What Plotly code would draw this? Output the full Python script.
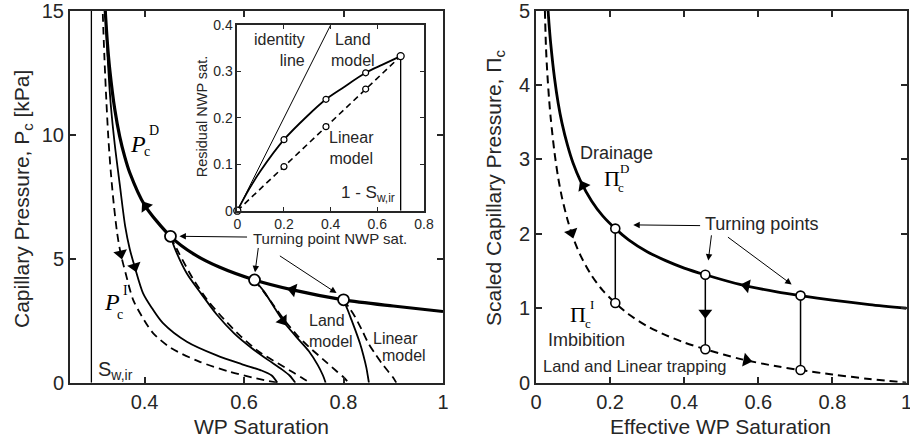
import numpy as np
import plotly.graph_objects as go

# ---------------- Left panel: WP saturation vs capillary pressure [kPa] ----------------
S_wir = 0.293
S_drain = [0.32, 0.325, 0.33, 0.34, 0.35, 0.36, 0.37, 0.40, 0.452, 0.50, 0.55, 0.621, 0.70, 0.80, 0.90, 1.0]
P_drain = [15.26, 13.74, 12.61, 11.02, 9.92, 9.11, 8.47, 7.16, 5.9, 5.17, 4.66, 4.14, 3.73, 3.34, 3.09, 2.87]
S_tp = [0.452, 0.621, 0.80]
P_tp = [5.9, 4.14, 3.34]

# primary imbibition from S_w,ir (dashed = linear, solid = Land)
S_prim_lin = [0.315, 0.319, 0.323, 0.327, 0.332, 0.338, 0.345, 0.352, 0.362, 0.377, 0.395, 0.417, 0.453, 0.51, 0.57, 0.625, 0.667]
P_prim_lin = [15.4, 13.2, 11.4, 9.9, 8.5, 7.2, 6.0, 5.2, 4.4, 3.34, 2.66, 2.0, 1.4, 0.85, 0.45, 0.17, 0.0]
S_prim_land = [0.321, 0.326, 0.332, 0.340, 0.350, 0.361, 0.370, 0.380, 0.397, 0.415, 0.437, 0.485, 0.545, 0.595, 0.634, 0.655, 0.667]
P_prim_land = [15.2, 13.0, 11.2, 9.6, 8.0, 6.3, 5.4, 4.68, 3.6, 3.0, 2.4, 1.65, 1.1, 0.75, 0.5, 0.3, 0.0]

# scanning curves from the three turning points
S_tp1_land = [0.452, 0.462, 0.485, 0.513, 0.545, 0.58, 0.615, 0.648, 0.675, 0.692, 0.703]
P_tp1_land = [5.9, 5.35, 4.4, 3.61, 2.75, 1.99, 1.4, 0.92, 0.55, 0.28, 0.0]
S_tp1_lin = [0.452, 0.469, 0.497, 0.526, 0.56, 0.594, 0.63, 0.668, 0.70, 0.72, 0.733]
P_tp1_lin = [5.9, 5.22, 4.2, 3.34, 2.55, 1.86, 1.25, 0.78, 0.4, 0.15, 0.0]
S_tp2_land = [0.621, 0.64, 0.658, 0.678, 0.705, 0.73, 0.748, 0.758, 0.764]
P_tp2_land = [4.14, 3.68, 3.12, 2.5, 1.85, 1.28, 0.72, 0.32, 0.0]
S_tp2_lin = [0.621, 0.64, 0.66, 0.68, 0.705, 0.73, 0.76, 0.785, 0.80, 0.81]
P_tp2_lin = [4.14, 3.65, 3.1, 2.55, 1.95, 1.45, 0.92, 0.48, 0.22, 0.0]
S_tp3_land = [0.80, 0.808, 0.816, 0.825, 0.833, 0.84, 0.846, 0.849, 0.851]
P_tp3_land = [3.34, 2.95, 2.53, 2.05, 1.59, 1.1, 0.6, 0.25, 0.0]
S_tp3_lin = [0.80, 0.812, 0.823, 0.837, 0.85, 0.864, 0.877, 0.89, 0.90, 0.906]
P_tp3_lin = [3.34, 3.0, 2.66, 2.12, 1.59, 1.15, 0.78, 0.45, 0.2, 0.0]

# ---------------- Inset: residual NWP saturation ----------------
nwp_turn = [0, 0.2, 0.38, 0.55, 0.7]
res_land = [0, 0.153, 0.24, 0.297, 0.333]
res_linear = [0, 0.095, 0.181, 0.262, 0.333]
land_curve_x = [0, 0.05, 0.1, 0.2, 0.3, 0.38, 0.45, 0.55, 0.62, 0.7]
land_curve_y = [0, 0.046, 0.086, 0.153, 0.204, 0.24, 0.264, 0.297, 0.314, 0.333]
identity_x = [0, 0.4]
one_minus_swir = 0.7

# ---------------- Right panel: scaled capillary pressure ----------------
Se_D = [0.032, 0.035, 0.04, 0.05, 0.06, 0.07, 0.085, 0.1, 0.12, 0.15, 0.18, 0.214, 0.25, 0.3, 0.35, 0.4, 0.457, 0.55, 0.65, 0.714, 0.8, 0.9, 1.0]
Pi_D = [5.04, 4.83, 4.54, 4.09, 3.75, 3.49, 3.19, 2.95, 2.71, 2.44, 2.24, 2.07, 1.92, 1.76, 1.64, 1.54, 1.45, 1.32, 1.22, 1.17, 1.11, 1.05, 1.0]
Se_I = [0.024, 0.027, 0.03, 0.035, 0.04, 0.05, 0.06, 0.07, 0.085, 0.1, 0.12, 0.15, 0.18, 0.214, 0.25, 0.3, 0.35, 0.4, 0.457, 0.55, 0.65, 0.714, 0.8, 0.9, 1.0]
Pi_I = [5.0, 4.5, 4.2, 3.83, 3.54, 3.09, 2.75, 2.49, 2.19, 1.95, 1.71, 1.44, 1.24, 1.07, 0.92, 0.76, 0.64, 0.54, 0.45, 0.32, 0.22, 0.17, 0.11, 0.05, 0.0]
Se_tp = [0.214, 0.457, 0.714]
Pi_tp_D = [2.07, 1.45, 1.17]
Pi_tp_I = [1.07, 0.45, 0.17]

INK = "#262626"
SANS = "Liberation Sans"
SERIF = "Liberation Serif"
DASH = "8px,5px"

# pixel scales (px per data unit) for arrow orientation
KX1, KY1 = 373 / 0.75, 371.7 / 15
KX2, KY2 = 370.7 / 1.0, 371.7 / 5

fig = go.Figure()


def line(x, y, xa, ya, width=1.8, dash=None, shape="spline"):
    fig.add_trace(go.Scatter(x=x, y=y, xaxis=xa, yaxis=ya, mode="lines",
                             line=dict(color="black", width=width, dash=dash, shape=shape, smoothing=0.8),
                             hoverinfo="skip", showlegend=False))


def arrow(xs, ys, x0, sign, xa, ya, kx, ky, size=12):
    xs = np.asarray(xs, float)
    ys = np.asarray(ys, float)
    h = 0.004
    y0 = float(np.interp(x0, xs, ys))
    y1, y2 = np.interp([x0 - h, x0 + h], xs, ys)
    dx = 2 * h * kx * sign
    dyup = (y2 - y1) * ky * sign
    ang = float(np.degrees(np.arctan2(dx, dyup)))
    fig.add_trace(go.Scatter(x=[x0], y=[y0], xaxis=xa, yaxis=ya, mode="markers",
                             marker=dict(symbol="triangle-up", size=size, color="black", angle=ang,
                                         line=dict(width=0)),
                             hoverinfo="skip", showlegend=False, cliponaxis=False))


# ---- left panel lines ----
line([S_wir, S_wir], [0, 15], "x", "y", width=1.3, shape="linear")
line(S_prim_lin, P_prim_lin, "x", "y", dash=DASH)
line(S_prim_land, P_prim_land, "x", "y")
line(S_tp1_lin, P_tp1_lin, "x", "y", dash=DASH)
line(S_tp1_land, P_tp1_land, "x", "y")
line(S_tp2_lin, P_tp2_lin, "x", "y", dash=DASH)
line(S_tp2_land, P_tp2_land, "x", "y")
line(S_tp3_lin, P_tp3_lin, "x", "y", dash=DASH)
line(S_tp3_land, P_tp3_land, "x", "y")
line(S_drain, P_drain, "x", "y", width=3.2)

arrow(S_drain, P_drain, 0.402, -1, "x", "y", KX1, KY1)
arrow(S_drain, P_drain, 0.698, -1, "x", "y", KX1, KY1)
arrow(S_prim_lin, P_prim_lin, 0.352, 1, "x", "y", KX1, KY1)
arrow(S_prim_land, P_prim_land, 0.380, 1, "x", "y", KX1, KY1)
arrow(S_tp2_land, P_tp2_land, 0.678, 1, "x", "y", KX1, KY1)

fig.add_trace(go.Scatter(x=S_tp, y=P_tp, xaxis="x", yaxis="y", mode="markers",
                         marker=dict(symbol="circle", size=11, color="white", line=dict(color="black", width=1.8)),
                         hoverinfo="skip", showlegend=False, cliponaxis=False))

# ---- inset ----
line(identity_x, identity_x, "x3", "y3", width=1.0, shape="linear")
line([0, one_minus_swir], [0, res_linear[-1]], "x3", "y3", width=1.6, dash="6px,4px", shape="linear")
line(land_curve_x, land_curve_y, "x3", "y3", width=1.8)
line([one_minus_swir, one_minus_swir], [0, res_land[-1]], "x3", "y3", width=1.3, shape="linear")
fig.add_trace(go.Scatter(x=nwp_turn[1:4], y=res_land[1:4], xaxis="x3", yaxis="y3", mode="markers",
                         marker=dict(size=6, color="white", line=dict(color="black", width=1.2)),
                         hoverinfo="skip", showlegend=False))
fig.add_trace(go.Scatter(x=nwp_turn[1:4], y=res_linear[1:4], xaxis="x3", yaxis="y3", mode="markers",
                         marker=dict(size=6, color="white", line=dict(color="black", width=1.2)),
                         hoverinfo="skip", showlegend=False))
fig.add_trace(go.Scatter(x=[nwp_turn[0], nwp_turn[-1]], y=[res_land[0], res_land[-1]], xaxis="x3", yaxis="y3",
                         mode="markers", marker=dict(size=7, color="white", line=dict(color="black", width=1.3)),
                         hoverinfo="skip", showlegend=False, cliponaxis=False))

# ---- right panel ----
for i in range(3):
    line([Se_tp[i], Se_tp[i]], [Pi_tp_I[i], Pi_tp_D[i]], "x2", "y2", width=1.5, shape="linear")
line(Se_I, Pi_I, "x2", "y2", width=2.0, dash=DASH)
line(Se_D, Pi_D, "x2", "y2", width=2.8)
arrow(Se_D, Pi_D, 0.127, -1, "x2", "y2", KX2, KY2)
arrow(Se_D, Pi_D, 0.568, -1, "x2", "y2", KX2, KY2)
arrow(Se_I, Pi_I, 0.096, 1, "x2", "y2", KX2, KY2)
arrow(Se_I, Pi_I, 0.568, 1, "x2", "y2", KX2, KY2)
fig.add_trace(go.Scatter(x=[Se_tp[1]], y=[0.94], xaxis="x2", yaxis="y2", mode="markers",
                         marker=dict(symbol="triangle-up", size=12, color="black", angle=180, line=dict(width=0)),
                         hoverinfo="skip", showlegend=False))
fig.add_trace(go.Scatter(x=Se_tp + Se_tp, y=Pi_tp_D + Pi_tp_I, xaxis="x2", yaxis="y2", mode="markers",
                         marker=dict(size=9, color="white", line=dict(color="black", width=1.6)),
                         hoverinfo="skip", showlegend=False, cliponaxis=False))

# ---- axes ----
main_ax = dict(showgrid=False, zeroline=False, showline=True, linecolor=INK, linewidth=2,
               mirror="ticks", ticks="inside", ticklen=6, tickwidth=1.5, tickcolor=INK, automargin=False,
               ticklabeloverflow="allow", tickfont=dict(family=SANS, size=20, color=INK))
inset_ax = dict(showgrid=False, zeroline=False, showline=True, linecolor=INK, linewidth=1.5,
                mirror="ticks", ticks="inside", ticklen=4, tickwidth=1.2, tickcolor=INK, automargin=False,
                ticklabeloverflow="allow", tickfont=dict(family=SANS, size=14, color=INK))
YD = [1 - 382.7 / 444, 1 - 10.5 / 444]

fig.update_layout(
    width=910, height=444, margin=dict(l=0, r=0, t=0, b=0, autoexpand=False),
    paper_bgcolor="white", plot_bgcolor="white", showlegend=False,
    xaxis=dict(main_ax, domain=[70 / 910, 443 / 910], range=[0.25, 1], tickvals=[0.4, 0.6, 0.8, 1],
               ticktext=["0.4", "0.6", "0.8", "1"], anchor="y"),
    yaxis=dict(main_ax, domain=YD, range=[0, 15], tickvals=[0, 5, 10, 15], anchor="x"),
    xaxis2=dict(main_ax, domain=[536 / 910, 906.5 / 910], range=[0, 1], tickvals=[0, 0.2, 0.4, 0.6, 0.8, 1],
                ticktext=["0", "0.2", "0.4", "0.6", "0.8", "1"], anchor="y2"),
    yaxis2=dict(main_ax, domain=YD, range=[0, 5], tickvals=[0, 1, 2, 3, 4, 5], anchor="x2"),
    xaxis3=dict(inset_ax, domain=[237.3 / 910, 424 / 910], range=[0, 0.8], tickvals=[0, 0.2, 0.4, 0.6, 0.8],
                ticktext=["0", "0.2", "0.4", "0.6", "0.8"], anchor="y3"),
    yaxis3=dict(inset_ax, domain=[1 - 210.7 / 444, 1 - 25 / 444], range=[0, 0.4], tickvals=[0, 0.1, 0.2, 0.3, 0.4],
                ticktext=["0", "0.1", "0.2", "0.3", "0.4"], anchor="x3"),
)

ann = []


def txt(x, y, text, xref, yref, size=16, family=SANS, xanchor="center", yanchor="middle", align="center",
        angle=0):
    ann.append(dict(x=x, y=y, xref=xref, yref=yref, text=text, showarrow=False, xanchor=xanchor,
                    yanchor=yanchor, align=align, textangle=angle,
                    font=dict(family=family, size=size, color=INK if family == SANS else "black")))


def pointer(x, y, ax, ay, xref, yref):
    ann.append(dict(x=x, y=y, ax=ax, ay=ay, xref=xref, yref=yref, axref=xref, ayref=yref, text="",
                    showarrow=True, arrowhead=2, arrowsize=1.3, arrowwidth=1, arrowcolor="black"))


# axis titles
txt(23 / 910, 1 - 199 / 444, "Capillary Pressure, P<sub>c</sub> [kPa]", "paper", "paper", size=21, angle=-90)
txt(261.7 / 910, 1 - 426 / 444, "WP Saturation", "paper", "paper", size=21)
txt(495 / 910, 1 - 188 / 444, "Scaled Capillary Pressure, Π<sub>c</sub>", "paper", "paper", size=21, angle=-90)
txt(720.8 / 910, 1 - 426 / 444, "Effective WP Saturation", "paper", "paper", size=21)
txt(201.5 / 910, 1 - 116.7 / 444, "Residual NWP sat.", "paper", "paper", size=14.5, angle=-90)

# left panel labels
txt(0.387, 9.6, "<i>P</i>", "x", "y", size=24, family=SERIF)
txt(0.418, 10.15, "D", "x", "y", size=14, family=SERIF)
txt(0.405, 9.3, "c", "x", "y", size=14, family=SERIF)
txt(0.334, 3.25, "<i>P</i>", "x", "y", size=24, family=SERIF)
txt(0.361, 3.7, "I", "x", "y", size=14, family=SERIF)
txt(0.351, 2.75, "c", "x", "y", size=14, family=SERIF)
txt(0.302, 0.5, "S<sub>w,ir</sub>", "x", "y", size=20, xanchor="left")
txt(0.727, 2.09, "Land<br>model", "x", "y", size=16, xanchor="left", align="left")
txt(0.9045, 1.80, "Linear", "x", "y", size=16)
txt(0.922, 1.08, "model", "x", "y", size=16)
txt(0.773, 5.83, "Turning point NWP sat.", "x", "y", size=15)
pointer(0.470, 5.9, 0.609, 5.87, "x", "y")
pointer(0.622, 4.45, 0.629, 5.49, "x", "y")
pointer(0.786, 3.61, 0.669, 5.15, "x", "y")

# inset labels
txt(0.30, 0.347, "identity<br>line", "x3", "y3", size=16, xanchor="right", align="right")
txt(0.496, 0.347, "Land<br>model", "x3", "y3", size=16)
txt(0.488, 0.136, "Linear<br>model", "x3", "y3", size=16)
txt(0.56, 0.035, "1 - S<sub>w,ir</sub>", "x3", "y3", size=17)

# right panel labels
txt(0.216, 3.09, "Drainage", "x2", "y2", size=18)
txt(0.204, 2.74, "Π", "x2", "y2", size=22, family=SERIF)
txt(0.238, 2.88, "D", "x2", "y2", size=13, family=SERIF)
txt(0.229, 2.62, "c", "x2", "y2", size=13, family=SERIF)
txt(0.114, 0.92, "Π", "x2", "y2", size=22, family=SERIF)
txt(0.150, 1.05, "I", "x2", "y2", size=13, family=SERIF)
txt(0.141, 0.80, "c", "x2", "y2", size=13, family=SERIF)
txt(0.137, 0.574, "Imbibition", "x2", "y2", size=18)
txt(0.267, 0.225, "Land and Linear trapping", "x2", "y2", size=16.5)
txt(0.609, 2.13, "Turning points", "x2", "y2", size=18)
pointer(0.2625, 2.12, 0.447, 2.11, "x2", "y2")
pointer(0.465, 1.64, 0.474, 2.0, "x2", "y2")
pointer(0.690, 1.32, 0.514, 1.97, "x2", "y2")

fig.update_layout(annotations=ann)
fig.write_html("out.html")
